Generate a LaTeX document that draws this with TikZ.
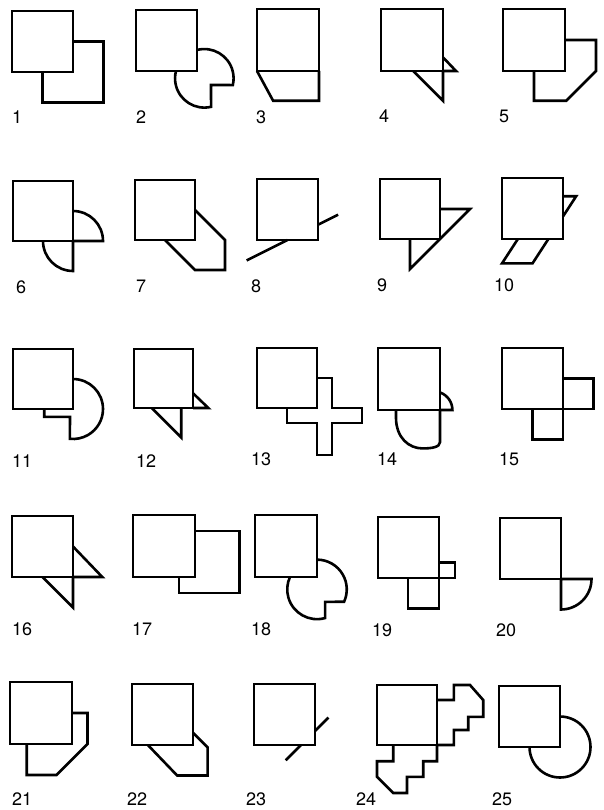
\documentclass[tikz,border=0pt]{standalone}
\usepackage{fontspec}
\setmainfont{TeX Gyre Heros}
\tikzset{
  lab/.style={anchor=base west, inner sep=0pt, font=\fontsize{18}{18}\selectfont},
  fig/.style={line width=2.6pt}
}
\newcommand{\sqfig}[4]{%
  \begin{scope}[shift={(#1pt,-#2pt)}, x=#3pt, y=#3pt, fig]
    \draw (0,0) rectangle (1,1);
    #4
  \end{scope}}
\begin{document}
\begin{tikzpicture}[x=1pt,y=-1pt]
\useasboundingbox (0,0) rectangle (604,810);
% ---------- row 1
\sqfig{12}{72}{61}{\draw (1,0.5)--(1.5,0.5)--(1.5,-0.5)--(0.5,-0.5)--(0.5,0);}
\sqfig{136}{71}{61}{\draw ([shift={(1.12,-0.12)}]104.5:0.48) arc[start angle=104.5,end angle=-13.3,radius=0.48] -- (1.23,-0.23) -- ([shift={(1.12,-0.12)}]-76.7:0.48) arc[start angle=-76.7,end angle=-194.5,radius=0.48];}
\sqfig{257}{71}{62}{\draw (0,0)--(0.26,-0.48)--(1,-0.48)--(1,0);}
\sqfig{381}{71}{62}{\draw (1,0.22)--(1.21,0)--(1,0); \draw (0.52,0)--(1,-0.48)--(1,0);}
\sqfig{503}{71}{62}{\draw (1,0.5)--(1.5,0.5)--(1.5,0)--(1.02,-0.48)--(0.5,-0.48)--(0.5,0);}
% ---------- row 2
\sqfig{13}{241}{60}{\draw (1,0.5) arc[start angle=90,end angle=0,radius=0.5] -- (1,0); \draw (0.5,0) arc[start angle=180,end angle=270,radius=0.5] -- (1,0);}
\sqfig{135}{240}{60}{\draw (1,0.5)--(1.5,0)--(1.5,-0.5)--(1,-0.5)--(0.5,0);}
\sqfig{257}{240}{61}{\draw (-0.17,-0.335)--(0.5,0); \draw (1,0.25)--(1.33,0.415);}
\sqfig{380}{239}{60}{\draw (1,0.5)--(1.5,0.5)--(0.5,-0.5)--(0.5,0);}
\sqfig{502}{239}{61}{\draw (1,0.7)--(1.215,0.7)--(1,0.37); \draw (0.26,0)--(0,-0.4)--(0.5,-0.4)--(0.76,0);}
% ---------- row 3
\sqfig{13}{409}{60}{\draw (1,0.5) arc[start angle=90,end angle=-96,radius=0.5] -- (0.95,-0.13) -- (0.52,-0.13) -- (0.52,0);}
\sqfig{134}{408}{59}{\draw (1,0.25)--(1.26,0)--(1,0); \draw (0.3,0)--(0.8,-0.5)--(0.8,0);}
\sqfig{257}{408}{60}{\draw (1,0.5)--(1.25,0.5)--(1.25,0)--(1.75,0)--(1.75,-0.25)--(1.25,-0.25)--(1.25,-0.78)--(1,-0.78)--(1,-0.25)--(0.5,-0.25)--(0.5,0);}
\sqfig{378}{410}{62}{\draw (1,0.283) arc[start angle=70.5,end angle=0,radius=0.3] -- (1,0); \draw (0.29,0) -- (0.29,-0.12) .. controls (0.29,-0.45) and (0.5,-0.62) .. (0.72,-0.62) .. controls (0.86,-0.62) and (1,-0.6) .. (1,-0.52) -- (1,0);}
\sqfig{502}{409}{61}{\draw (1,0.5)--(1.5,0.5)--(1.5,0)--(1,0); \draw (0.5,0)--(0.5,-0.5)--(1,-0.5)--(1,0);}
% ---------- row 4
\sqfig{12}{577}{61}{\draw (1,0.5)--(1.48,0)--(1,0); \draw (0.5,0)--(1,-0.5)--(1,0);}
\sqfig{133}{577}{62}{\draw (1,0.74)--(1.72,0.74)--(1.72,-0.26)--(0.74,-0.26)--(0.74,0);}
\sqfig{255}{577}{62}{\draw ([shift={(1,-0.2)}]90:0.48) arc[start angle=90,end angle=-24.6,radius=0.48] -- (1.13,-0.4) -- ([shift={(1,-0.2)}]-74.3:0.48) arc[start angle=-74.3,end angle=-204.6,radius=0.48];}
\sqfig{378}{578}{61}{\draw (1,0.25)--(1.26,0.25)--(1.26,0)--(1,0); \draw (0.49,0)--(0.49,-0.5)--(1,-0.5)--(1,0);}
\sqfig{500}{579}{61}{\draw (1,0)--(1.5,0) arc[start angle=0,end angle=-90,radius=0.5] -- (1,0);}
% ---------- row 5
\sqfig{10}{744}{62}{\draw (1,0.5)--(1.25,0.5)--(1.25,0)--(0.75,-0.5)--(0.27,-0.5)--(0.27,0);}
\sqfig{132}{745}{61}{\draw (1,0.2)--(1.24,-0.04)--(1.24,-0.5)--(0.74,-0.5)--(0.26,0);}
\sqfig{254}{745}{61}{\draw (0.52,-0.25)--(0.77,0); \draw (1,0.23)--(1.22,0.45);}
\sqfig{377}{745}{60}{\draw (1,0.75)--(1.28,0.75)--(1.28,1)--(1.55,1)--(1.77,0.75)--(1.77,0.47)--(1.52,0.47)--(1.52,0.25)--(1.28,0.25)--(1.28,0)--(1,0);
  \draw (1,0)--(1,-0.27)--(0.77,-0.27)--(0.77,-0.53)--(0.5,-0.53)--(0.5,-0.8)--(0.27,-0.8)--(0,-0.53)--(0,-0.27)--(0.27,-0.27)--(0.27,0);}
\sqfig{499}{747}{61}{\draw (1,0.5) arc[start angle=90,end angle=-180,radius=0.5];}
% ---------- labels
\node[lab] (l1) at (12,124) {1};
\node[lab] (l2) at (136,124) {2};
\node[lab] (l3) at (256,124) {3};
\node[lab] (l4) at (379,123) {4};
\node[lab] (l5) at (499,123) {5};
\node[lab] (l6) at (16,293) {6};
\node[lab] (l7) at (136,292) {7};
\node[lab] (l8) at (251,292) {8};
\node[lab] (l9) at (377,291) {9};
\node[lab] (l10) at (494,291) {10};
\node[lab] (l11) at (12,467) {11};
\node[lab] (l12) at (136,467) {12};
\node[lab] (l13) at (251,465) {13};
\node[lab] (l14) at (377,465) {14};
\node[lab] (l15) at (499,465) {15};
\node[lab] (l16) at (12,635) {16};
\node[lab] (l17) at (132,635) {17};
\node[lab] (l18) at (251,635) {18};
\node[lab] (l19) at (372,636) {19};
\node[lab] (l20) at (496,636) {20};
\node[lab] (l21) at (12,805) {21};
\node[lab] (l22) at (127,805) {22};
\node[lab] (l23) at (246,805) {23};
\node[lab] (l24) at (356,805) {24};
\node[lab] (l25) at (492,805) {25};
\end{tikzpicture}
\end{document}
